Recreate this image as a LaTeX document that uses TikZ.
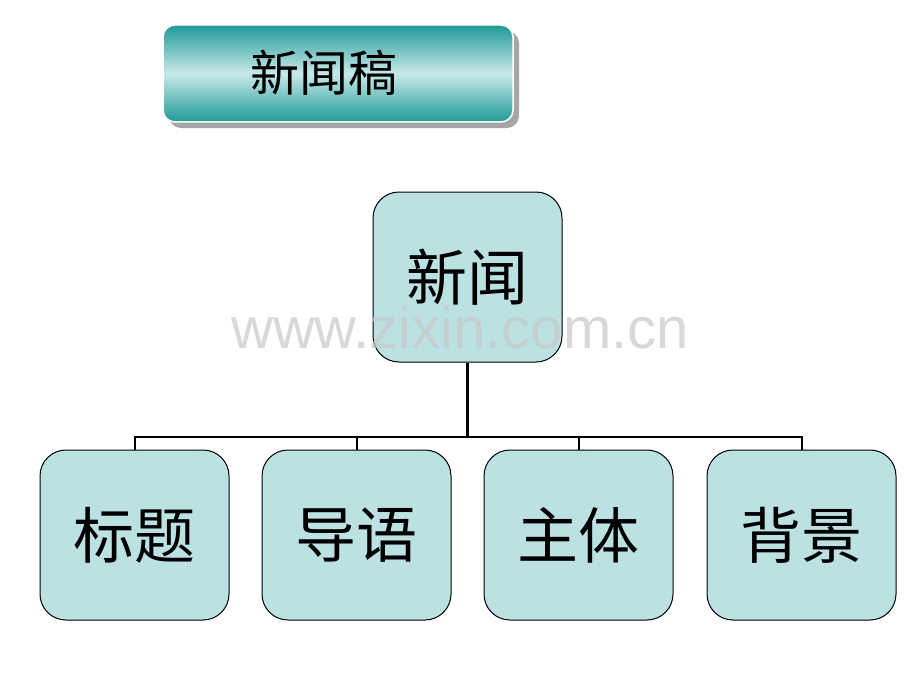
\documentclass[tikz,border=0pt]{standalone}
\usepackage{fontspec}
\newfontfamily\cjk{Noto Sans CJK SC}
\setmainfont{Liberation Sans}
\definecolor{boxfill}{HTML}{BCE1E3}
\definecolor{tealdark}{HTML}{1E9A97}
\definecolor{teallight}{HTML}{C8E9E9}
\definecolor{wmgray}{HTML}{C8C8C8}
\begin{document}
\begin{tikzpicture}[x=1pt,y=-1pt,
  orgbox/.style={draw=black, line width=1pt, fill=boxfill, rounded corners=26pt,
    minimum width=189pt, minimum height=170pt, inner sep=0pt,
    font=\cjk\fontsize{61}{64}\selectfont},
  link/.style={draw=black, line width=2pt}]
\useasboundingbox (0,0) rectangle (920,690);
\fill[white] (0,0) rectangle (920,690);
% title box
\fill[gray!70, rounded corners=12pt] (169,31) rectangle (519,128);
\shade[top color=tealdark, bottom color=tealdark, middle color=teallight, rounded corners=12pt]
  (163,25) rectangle (513,122);
\draw[white, line width=1.5pt, rounded corners=12pt] (163,25) rectangle (513,122);
\node[font=\cjk\fontsize{49}{52}\selectfont, inner sep=0pt] (title) at (324,73) {新闻稿};
% nodes
\node[orgbox] (root) at (467.5,277) {\raisebox{-6pt}{新闻}};
\node[orgbox] (a) at (134.5,535) {\raisebox{-6pt}{标题}};
\node[orgbox] (b) at (356.5,535) {\raisebox{-6pt}{导语}};
\node[orgbox] (c) at (578.5,535) {\raisebox{-6pt}{主体}};
\node[orgbox] (d) at (801.5,535) {\raisebox{-6pt}{背景}};
\coordinate (bus) at (467.5,437);
\draw[draw=black, line width=3pt] (root.south) -- (bus);
\draw[link] (a.north) |- (bus) -| (d.north);
\draw[link] (b.north) -- (b.north |- bus);
\draw[link] (c.north) -- (c.north |- bus);
% watermark
\node[text=wmgray, opacity=0.7, font=\fontsize{58}{60}\selectfont, inner sep=0pt] (wm) at (460,328) {www.zixin.com.cn};
\end{tikzpicture}
\end{document}
